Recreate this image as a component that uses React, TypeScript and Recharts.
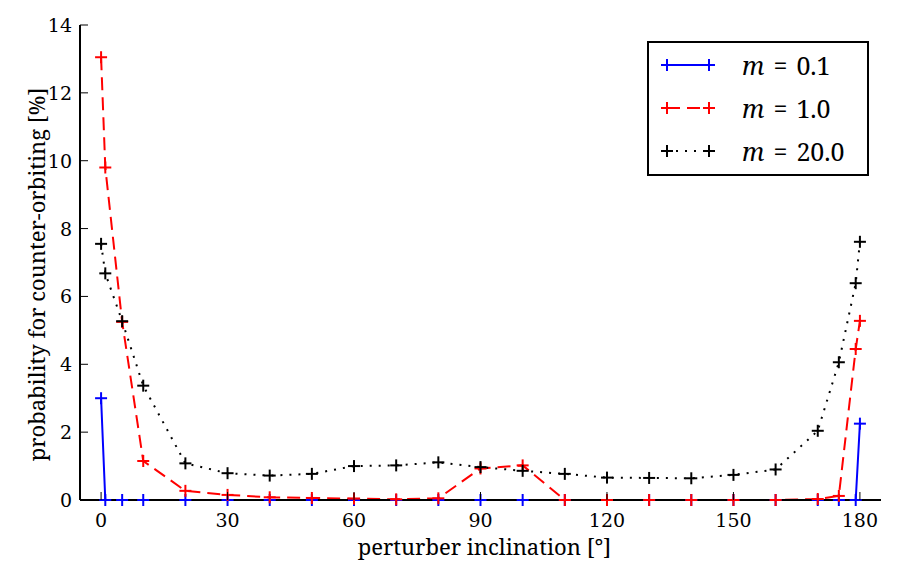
import React from "react";
import { LineChart, Line, XAxis, YAxis } from "recharts";

const inclinations = [0, 1, 5, 10, 20, 30, 40, 50, 60, 70, 80, 90, 100, 110, 120, 130, 140, 150, 160, 170, 175, 179, 180];
const mSmall = [3.0, 0, 0, 0, 0, 0, 0, 0, 0, 0, 0, 0, 0, 0, 0, 0, 0, 0, 0, 0, 0, 0, 2.25];
const mMid = [13.05, 9.8, 5.25, 1.15, 0.27, 0.15, 0.08, 0.06, 0.04, 0.02, 0.05, 0.93, 1.02, 0, 0, 0, 0, 0, 0, 0.03, 0.12, 4.45, 5.28];
const mLarge = [7.55, 6.68, 5.27, 3.37, 1.08, 0.79, 0.72, 0.77, 1.0, 1.02, 1.11, 0.97, 0.86, 0.77, 0.66, 0.65, 0.64, 0.74, 0.9, 2.04, 4.06, 6.39, 7.61];
const xTicks = [0, 30, 60, 90, 120, 150, 180];
const yTicks = [0, 2, 4, 6, 8, 10, 12, 14];
const legendLabels = ["0.1", "1.0", "20.0"];

const data = inclinations.map((x, i) => ({ x, a: mSmall[i], b: mMid[i], c: mLarge[i] }));

const TICK_FONT = "DejaVu Serif";
const LABEL_FONT = "Noto Serif";

const plus = (color: string) => (props: any) => {
  const { cx, cy, index } = props;
  if (cx == null || cy == null) return <g key={index} />;
  return (
    <g key={index}>
      <line x1={cx - 6} y1={cy} x2={cx + 6} y2={cy} stroke={color} strokeWidth={2} />
      <line x1={cx} y1={cy - 6} x2={cx} y2={cy + 6} stroke={color} strokeWidth={2} />
    </g>
  );
};

const BottomTick = (props: any) => {
  const { x, y, payload } = props;
  return (
    <g>
      <line x1={x} y1={y} x2={x} y2={y - 8} stroke="#000" strokeWidth={1} />
      <text x={x} y={y + 27} textAnchor="middle" fontFamily={TICK_FONT} fontSize={19} fill="#000">
        {payload.value}
      </text>
    </g>
  );
};
const TopTick = (props: any) => {
  const { x, y } = props;
  return <line x1={x} y1={y} x2={x} y2={y + 8} stroke="#000" strokeWidth={1} />;
};
const LeftTick = (props: any) => {
  const { x, y, payload } = props;
  return (
    <g>
      <line x1={x} y1={y} x2={x + 8} y2={y} stroke="#000" strokeWidth={1} />
      <text x={x - 8} y={y + 7} textAnchor="end" fontFamily={TICK_FONT} fontSize={19} fill="#000">
        {payload.value}
      </text>
    </g>
  );
};
const RightTick = (props: any) => {
  const { x, y } = props;
  return <line x1={x} y1={y} x2={x - 8} y2={y} stroke="#000" strokeWidth={1} />;
};

const XLabel = (props: any) => {
  const vb = props.viewBox || {};
  return (
    <text x={vb.x + vb.width / 2 + 4} y={vb.y + 55} textAnchor="middle" fontFamily={LABEL_FONT} fontSize={22} fill="#000">
      perturber inclination [°]
    </text>
  );
};
const YLabel = (props: any) => {
  const vb = props.viewBox || {};
  const cx = 37;
  const cy = vb.y + vb.height / 2 + 12;
  return (
    <text x={cx} y={cy} transform={`rotate(-90 ${cx} ${cy})`} textAnchor="middle" fontFamily={LABEL_FONT} fontSize={22} fill="#000">
      probability for counter-orbiting [%]
    </text>
  );
};

const series = [
  { color: "#0000ff", dash: undefined as string | undefined },
  { color: "#ff0000", dash: "13 7" },
  { color: "#000000", dash: "2 7" },
];

const LegendBox = () => (
  <div
    style={{
      position: "absolute",
      left: 639,
      top: 33,
      border: "2px solid #000",
      background: "#fff",
      width: 222,
      height: 135,
      boxSizing: "border-box",
      fontFamily: LABEL_FONT,
    }}
  >
    {series.map((s, i) => (
      <div key={i} style={{ display: "flex", alignItems: "center", height: 43 }}>
        <svg width={80} height={20} style={{ marginLeft: 12, flex: "none" }}>
          <line x1={6} y1={10} x2={48} y2={10} stroke={s.color} strokeWidth={2} strokeDasharray={s.dash} />
          {[6, 48].map((cx) => (
            <g key={cx}>
              <line x1={cx - 6} y1={10} x2={cx + 6} y2={10} stroke={s.color} strokeWidth={2} />
              <line x1={cx} y1={4} x2={cx} y2={16} stroke={s.color} strokeWidth={2} />
            </g>
          ))}
        </svg>
        <span style={{ fontSize: 25, marginLeft: 1, whiteSpace: "nowrap", fontFamily: LABEL_FONT }}>
          <i>m</i>
          <span style={{ margin: "0 9px" }}>=</span>
          {legendLabels[i]}
        </span>
      </div>
    ))}
  </div>
);

export default function App() {
  return (
    <div style={{ position: "relative", width: 891, height: 572 }}>
      <LineChart width={891} height={572} data={data} margin={{ top: 17, right: 18, left: 0, bottom: 0 }}>
        <XAxis
          xAxisId="b"
          dataKey="x"
          type="number"
          domain={[-5, 185]}
          ticks={xTicks}
          interval={0}
          height={80}
          tickSize={0}
          tickMargin={0}
          tickLine={false}
          axisLine={{ stroke: "#000", strokeWidth: 2 }}
          tick={<BottomTick />}
          label={<XLabel />}
        />
        <XAxis
          xAxisId="t"
          orientation="top"
          dataKey="x"
          type="number"
          domain={[-5, 185]}
          ticks={xTicks}
          interval={0}
          height={0}
          tickSize={0}
          tickMargin={0}
          tickLine={false}
          axisLine={{ stroke: "#000", strokeWidth: 2 }}
          tick={<TopTick />}
        />
        <YAxis
          yAxisId="l"
          type="number"
          domain={[0, 14]}
          ticks={yTicks}
          interval={0}
          width={72}
          tickSize={0}
          tickMargin={0}
          tickLine={false}
          axisLine={{ stroke: "#000", strokeWidth: 2 }}
          tick={<LeftTick />}
          label={<YLabel />}
        />
        <YAxis
          yAxisId="r"
          orientation="right"
          type="number"
          domain={[0, 14]}
          ticks={yTicks}
          interval={0}
          width={0}
          tickSize={0}
          tickMargin={0}
          tickLine={false}
          axisLine={{ stroke: "#000", strokeWidth: 2 }}
          tick={<RightTick />}
        />
        <Line xAxisId="b" yAxisId="l" dataKey="a" type="linear" stroke="#0000ff" strokeWidth={2} dot={plus("#0000ff")} activeDot={false} isAnimationActive={false} />
        <Line xAxisId="b" yAxisId="l" dataKey="b" type="linear" stroke="#ff0000" strokeWidth={2} strokeDasharray="13 7" dot={plus("#ff0000")} activeDot={false} isAnimationActive={false} />
        <Line xAxisId="b" yAxisId="l" dataKey="c" type="linear" stroke="#000000" strokeWidth={2} strokeDasharray="2 7" dot={plus("#000000")} activeDot={false} isAnimationActive={false} />
      </LineChart>
      <LegendBox />
    </div>
  );
}
